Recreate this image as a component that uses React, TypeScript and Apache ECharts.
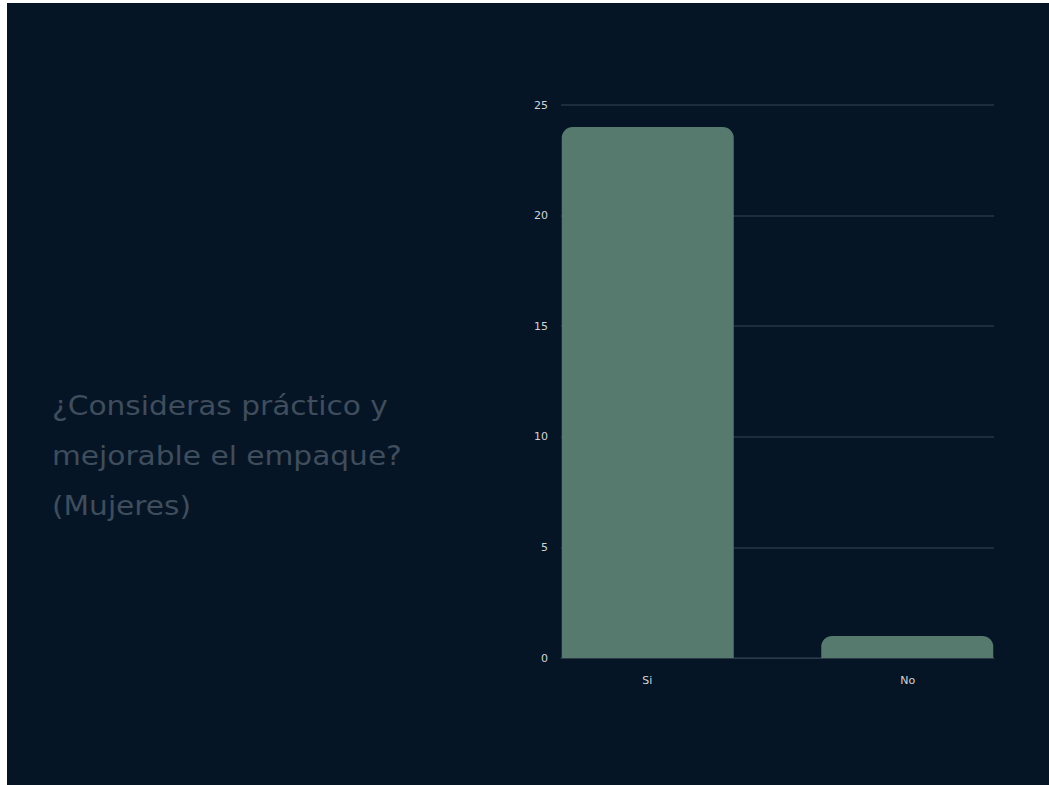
import React, { useEffect, useRef } from "react";
import * as echarts from "echarts";

const categories = ["Si", "No"];
const values = [24, 1];
const yTicks = [0, 5, 10, 15, 20, 25];
const titleLines = ["¿Consideras práctico y", "mejorable el empaque?", "(Mujeres)"];

export default function App() {
  const ref = useRef<HTMLDivElement>(null);
  useEffect(() => {
    if (!ref.current) return;
    const chart = echarts.init(ref.current, undefined, { renderer: "svg" });
    const series = categories.map((c, i) => ({
      type: "bar",
      name: c,
      data: values.map((v, j) => (j === i ? v : "-")),
      barWidth: 172,
      barGap: "-75%",
      itemStyle: { color: "#577a6e", borderRadius: [11, 11, 0, 0] },
    }));
    chart.setOption({
      animation: false,
      backgroundColor: "#061526",
      graphic: [
        {
          type: "text",
          x: 45,
          y: 378,
          scaleX: 1.14,
          style: {
            text: titleLines.join("\n"),
            fill: "#3f4d5c",
            font: "normal 26px 'DejaVu Sans'",
            lineHeight: 50,
            textAlign: "left",
            textVerticalAlign: "top",
          },
        },
      ],
      grid: { left: 554, width: 433, top: 102, bottom: 127 },
      xAxis: {
        type: "category",
        data: categories,
        axisLine: { show: true, lineStyle: { color: "#2c3a4a", width: 1 } },
        axisTick: { show: false },
        axisLabel: {
          margin: 17,
          formatter: (v: string, i: number) => (i === 0 ? `{l|${v}}` : `{r|${v}}`),
          rich: {
            l: { color: "#d0d4d8", fontSize: 11, fontFamily: "DejaVu Sans", padding: [0, 44, 0, 0] },
            r: { color: "#d0d4d8", fontSize: 11, fontFamily: "DejaVu Sans", padding: [0, 0, 0, 44] },
          },
        },
      },
      yAxis: {
        type: "value",
        min: yTicks[0],
        max: yTicks[yTicks.length - 1],
        interval: yTicks[1] - yTicks[0],
        axisLine: { show: false },
        axisTick: { show: false },
        axisLabel: { color: "#d0d4d8", fontSize: 11, fontFamily: "DejaVu Sans", margin: 13 },
        splitLine: { lineStyle: { color: "#1e2c3e", width: 2 } },
      },
      series,
    });
    return () => chart.dispose();
  }, []);
  return (
    <div
      ref={ref}
      style={{ position: "fixed", left: 7, top: 3, width: 1042, height: 782 }}
    />
  );
}
